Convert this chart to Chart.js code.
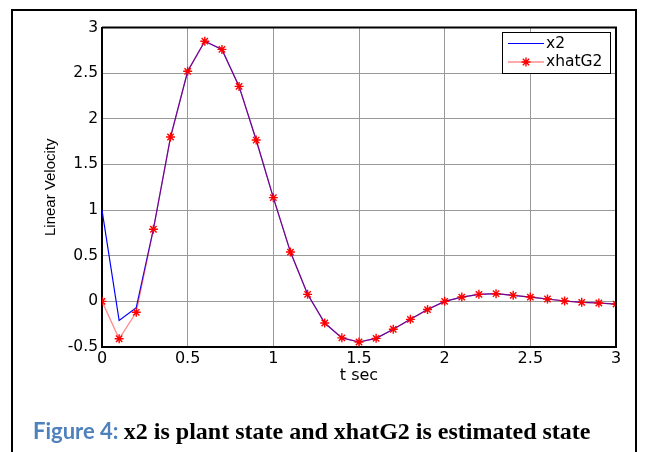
<!DOCTYPE html>
<html>
<head>
<meta charset="utf-8">
<script src="https://cdn.jsdelivr.net/npm/chart.js@4/dist/chart.umd.min.js"></script>
<style>
  html, body { margin: 0; padding: 0; background: #fff; }
  #wrap { position: relative; width: 646px; height: 452px; overflow: hidden; background: #fff; }
  #frame { position: absolute; left: 11px; top: 9px; width: 626px; height: 460px; border: 2px solid #000; border-bottom: none; box-sizing: border-box; }
  #c { position: absolute; left: 0; top: 0; }
  #caption { position: absolute; left: 33px; top: 419px; white-space: nowrap; line-height: 24px; }
  #caption .fig { font-family: Lato, "Open Sans", sans-serif; font-weight: bold; font-size: 22px; color: #4f81bd; }
  #caption .txt { font-family: "Liberation Serif", "Times New Roman", serif; font-weight: bold; font-size: 24px; color: #000; }
</style>
</head>
<body>
<div id="wrap">
  <div id="frame"></div>
  <canvas id="c" width="646" height="452"></canvas>
  <div id="caption"><span class="fig">Figure 4: </span><span class="txt">x2 is plant state and xhatG2 is estimated state</span></div>
</div>
<script>
// ---- data ----
const tSec = [0.0, 0.1, 0.2, 0.3, 0.4, 0.5, 0.6, 0.7, 0.8, 0.9, 1.0, 1.1, 1.2, 1.3, 1.4, 1.5,
              1.6, 1.7, 1.8, 1.9, 2.0, 2.1, 2.2, 2.3, 2.4, 2.5, 2.6, 2.7, 2.8, 2.9, 3.0];
const x2 = [1.00, -0.21, -0.07, 0.79, 1.80, 2.52, 2.85, 2.76, 2.355, 1.767, 1.136, 0.54, 0.077, -0.237, -0.40, -0.445,
            -0.405, -0.306, -0.197, -0.09, 0.0, 0.047, 0.077, 0.084, 0.066, 0.047, 0.026, 0.004, -0.011, -0.018, -0.03];
const xhatG2 = [0.00, -0.41, -0.12, 0.79, 1.80, 2.52, 2.85, 2.76, 2.355, 1.767, 1.136, 0.54, 0.077, -0.237, -0.40, -0.445,
            -0.405, -0.306, -0.197, -0.09, 0.0, 0.047, 0.077, 0.084, 0.066, 0.047, 0.026, 0.004, -0.011, -0.018, -0.03];
const seriesNames = ["x2", "xhatG2"];
const xTickLabels = ["0", "0.5", "1", "1.5", "2", "2.5", "3"];
const yTickLabels = ["-0.5", "0", "0.5", "1", "1.5", "2", "2.5", "3"];
const xTitle = "t sec";
const yTitle = "Linear Velocity";

const toPts = arr => arr.map((v, i) => ({ x: tSec[i], y: v }));

const blue = "#0000ff";
const redLine = "rgba(255,0,0,0.45)";
const red = "#ff0000";

// box + legend plugin
const boxLegend = {
  id: "boxLegend",
  afterDatasetsDraw(chart) {
    const { ctx, chartArea: a } = chart;
    ctx.save();
    ctx.strokeStyle = "#000";
    ctx.lineWidth = 2;
    ctx.beginPath();
    ctx.moveTo(a.left, a.top); ctx.lineTo(a.right, a.top); ctx.lineTo(a.right, a.bottom);
    ctx.stroke();
    // legend box
    const lx = 502, ly = 32, lw = 108, lh = 41;
    ctx.fillStyle = "#fff";
    ctx.fillRect(lx, ly, lw, lh);
    ctx.lineWidth = 1;
    ctx.strokeRect(lx + 0.5, ly + 0.5, lw, lh);
    const rows = [ly + 11.5, ly + 30];
    ctx.strokeStyle = blue; ctx.lineWidth = 1;
    ctx.beginPath(); ctx.moveTo(508, rows[0]); ctx.lineTo(544, rows[0]); ctx.stroke();
    ctx.strokeStyle = redLine; ctx.lineWidth = 1.5;
    ctx.beginPath(); ctx.moveTo(508, rows[1]); ctx.lineTo(544, rows[1]); ctx.stroke();
    ctx.strokeStyle = red; ctx.lineWidth = 1.4;
    Chart.helpers.drawPoint(ctx, { pointStyle: "star", radius: 4.5, borderWidth: 1.4 }, 526, rows[1]);
    ctx.fillStyle = "#000";
    ctx.font = "15.5px 'DejaVu Sans'";
    ctx.textBaseline = "middle";
    ctx.textAlign = "left";
    ctx.fillText(seriesNames[0], 546, rows[0]);
    ctx.fillText(seriesNames[1], 546, rows[1]);
    ctx.restore();
  }
};

new Chart(document.getElementById("c"), {
  type: "line",
  data: {
    datasets: [
      { label: seriesNames[0], data: toPts(x2), borderColor: blue, borderWidth: 1.2,
        pointRadius: 0, tension: 0, order: 1 },
      { label: seriesNames[1], data: toPts(xhatG2), borderColor: redLine, borderWidth: 1.3,
        pointStyle: "star", pointRadius: 4.5, pointBorderColor: red, pointBackgroundColor: red,
        pointBorderWidth: 1.4, tension: 0, order: 0 }
    ]
  },
  options: {
    responsive: false,
    animation: false,
    events: [],
    layout: { padding: { left: 0, top: 27.5, right: 30, bottom: 0 } },
    plugins: { legend: { display: false }, tooltip: { enabled: false } },
    scales: {
      x: {
        type: "linear", min: 0, max: 3,
        afterFit(s) { s.height = 105; },
        afterBuildTicks(s) { s.ticks = xTickLabels.map(v => ({ value: parseFloat(v) })); },
        ticks: { callback: (v, i) => xTickLabels[i], padding: 2, color: "#000", maxRotation: 0,
                 font: { family: "DejaVu Sans", size: 16 } },
        grid: { color: "#999999", lineWidth: 1, drawTicks: false },
        border: { display: true, color: "#000", width: 2 },
        title: { display: true, text: xTitle, color: "#000", font: { family: "DejaVu Sans", size: 16 },
                 padding: { top: 0, bottom: 67 } }
      },
      y: {
        type: "linear", min: -0.5, max: 3,
        afterFit(s) { s.width = 102; },
        afterBuildTicks(s) { s.ticks = yTickLabels.map(v => ({ value: parseFloat(v) })); },
        ticks: { callback: (v, i) => yTickLabels[i], padding: 4, color: "#000",
                 font: { family: "DejaVu Sans", size: 15.5 } },
        grid: { color: "#999999", lineWidth: 1, drawTicks: false },
        border: { display: true, color: "#000", width: 2 },
        title: { display: true, text: yTitle, color: "#000", font: { family: "Liberation Sans", size: 15 },
                 padding: { top: 42, bottom: 0 } }
      }
    }
  },
  plugins: [boxLegend]
});
</script>
</body>
</html>
